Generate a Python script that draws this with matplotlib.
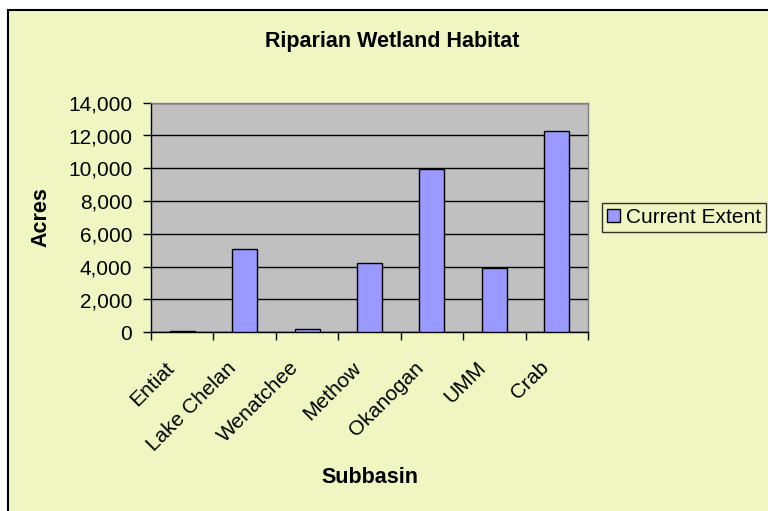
import matplotlib
matplotlib.use("Agg")
import matplotlib.pyplot as plt
from matplotlib.patches import Rectangle
from matplotlib.ticker import FuncFormatter, FixedLocator
from matplotlib.transforms import ScaledTranslation
import numpy as np

plt.rcParams['font.family'] = ['Liberation Sans', 'DejaVu Sans']

subbasins = ["Entiat", "Lake Chelan", "Wenatchee", "Methow", "Okanogan", "UMM", "Crab"]
current_extent = [100, 5080, 180, 4240, 9940, 3900, 12250]
y_ticks = [0, 2000, 4000, 6000, 8000, 10000, 12000, 14000]

W, H = 768, 511
fig = plt.figure(figsize=(W / 100, H / 100), dpi=100)
fig.patch.set_facecolor("white")

# chart area frame (runs off the right and bottom edges)
fig.patches.append(Rectangle((7.5 / W, -0.05), 1.2, 1 - 10.5 / H + 0.05,
                             transform=fig.transFigure, facecolor="#F0F6C2",
                             edgecolor="black", linewidth=1.5, zorder=-5))

left, right, top, bottom = 151, 588, 102.7, 332.3
ax = fig.add_axes([left / W, 1 - bottom / H, (right - left) / W, (bottom - top) / H])
ax.set_zorder(1)
ax.set_facecolor("#C0C0C0")

x = np.arange(len(subbasins))
bars = ax.bar(x, current_extent, width=0.4, color="#9999FF", edgecolor="black",
              linewidth=1.0, zorder=3, label="Current Extent")

ax.set_xlim(-0.5, len(subbasins) - 0.5)
ax.set_ylim(0, 14000)
ax.set_yticks(y_ticks)
ax.yaxis.set_major_formatter(FuncFormatter(lambda v, p: f"{int(v):,}"))
ax.yaxis.grid(True, color="black", linewidth=1.0, zorder=1)
ax.set_axisbelow(True)

# category boundaries carry tick marks, centres carry the labels
ax.xaxis.set_major_locator(FixedLocator(np.arange(-0.5, len(subbasins), 1.0)))
ax.xaxis.set_major_formatter(FuncFormatter(lambda v, p: ""))
ax.xaxis.set_minor_locator(FixedLocator(x))
ax.set_xticklabels(subbasins, minor=True, rotation=45, ha="right",
                   rotation_mode="anchor", fontsize=15)
ax.tick_params(axis="x", which="major", direction="out", length=5.5, width=1, color="black")
ax.tick_params(axis="x", which="minor", length=0, pad=12)
ax.tick_params(axis="y", direction="out", length=5.5, width=1, pad=8, labelsize=15)

shift = ScaledTranslation(-18 / 100, -9 / 100, fig.dpi_scale_trans)
for lbl in ax.get_xticklabels(minor=True):
    lbl.set_transform(lbl.get_transform() + shift)

for s in ["top", "right"]:
    ax.spines[s].set_color("#808080")
    ax.spines[s].set_linewidth(1.0)
for s in ["left", "bottom"]:
    ax.spines[s].set_color("black")
    ax.spines[s].set_linewidth(1.0)

fig.text(392 / W, 1 - 41 / H, "Riparian Wetland Habitat", ha="center", va="center",
         fontsize=15.5, fontweight="bold")
fig.text(41 / W, 1 - 217 / H, "Acres", ha="center", va="center", rotation=90,
         fontsize=15.5, fontweight="bold")
fig.text(370 / W, 1 - 477 / H, "Subbasin", ha="center", va="center",
         fontsize=15.5, fontweight="bold")

leg = fig.legend(handles=[bars], labels=["Current Extent"], loc="upper left",
                 bbox_to_anchor=(602 / W, 1 - 203 / H), fontsize=15, frameon=True,
                 fancybox=False, edgecolor="black", facecolor="#F0F6C2",
                 handlelength=0.6, handleheight=0.6, handletextpad=0.3,
                 borderpad=0.25, borderaxespad=0)
leg.get_frame().set_linewidth(1.0)

fig.savefig("out.png", dpi=100)
